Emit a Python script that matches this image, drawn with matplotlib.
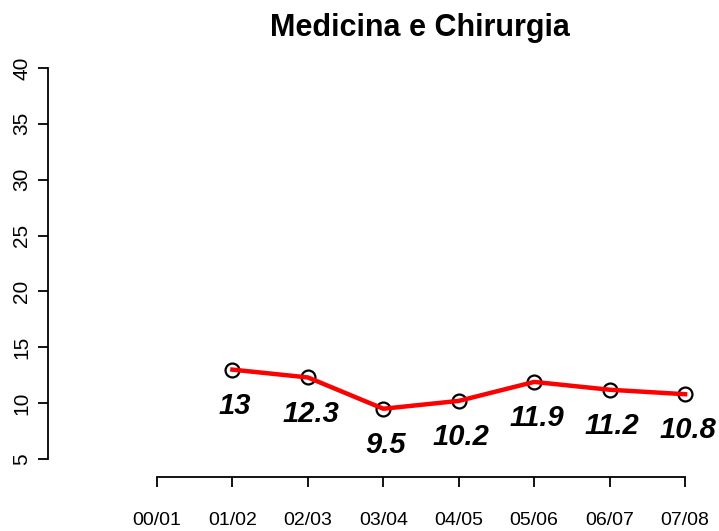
import numpy as np
import matplotlib
matplotlib.use("Agg")
import matplotlib.pyplot as plt

plt.rcParams['font.family'] = ['Liberation Sans', 'DejaVu Sans']

# academic years and values (first year has no value)
years = ['00/01', '01/02', '02/03', '03/04', '04/05', '05/06', '06/07', '07/08']
values = [np.nan, 13, 12.3, 9.5, 10.2, 11.9, 11.2, 10.8]
yticks = [5, 10, 15, 20, 25, 30, 35, 40]

x = np.arange(len(years))

fig = plt.figure(figsize=(7.19, 5.31), dpi=100)
ax = fig.add_axes([0.0668, 0.1017, 0.9068, 0.8004])

ax.plot(x, values, 'o', mfc='none', mec='black', ms=10, mew=1.6, zorder=2)
ax.plot(x, values, color='red', lw=3.2, zorder=3)

# value labels below the points
for xi, v in zip(x, values):
    if np.isnan(v):
        continue
    ax.annotate(f'{v:g}', (xi, v), xytext=(2, -26), textcoords='offset points',
                ha='center', va='center', fontsize=21, fontweight='bold',
                fontstyle='italic')

ax.set_xlim(-1.445, 7.2)
ax.set_ylim(3.39, 41.43)

ax.set_xticks(x)
ax.set_xticklabels(years, fontsize=14)
ax.set_yticks(yticks)
ax.set_yticklabels([str(t) for t in yticks], fontsize=15, rotation=90, va='center')

ax.spines['top'].set_visible(False)
ax.spines['right'].set_visible(False)
ax.spines['left'].set_bounds(5, 40)
ax.spines['bottom'].set_bounds(0, 7)
for s in ['left', 'bottom']:
    ax.spines[s].set_linewidth(1.3)

ax.tick_params(axis='x', length=7, width=1.3, pad=18)
ax.tick_params(axis='y', length=7, width=1.3, pad=5)

fig.text(420 / 719, 1 - 28 / 531, 'Medicina e Chirurgia', ha='center', va='center',
         fontsize=22, fontweight='bold')

fig.savefig('out.png', dpi=100)
